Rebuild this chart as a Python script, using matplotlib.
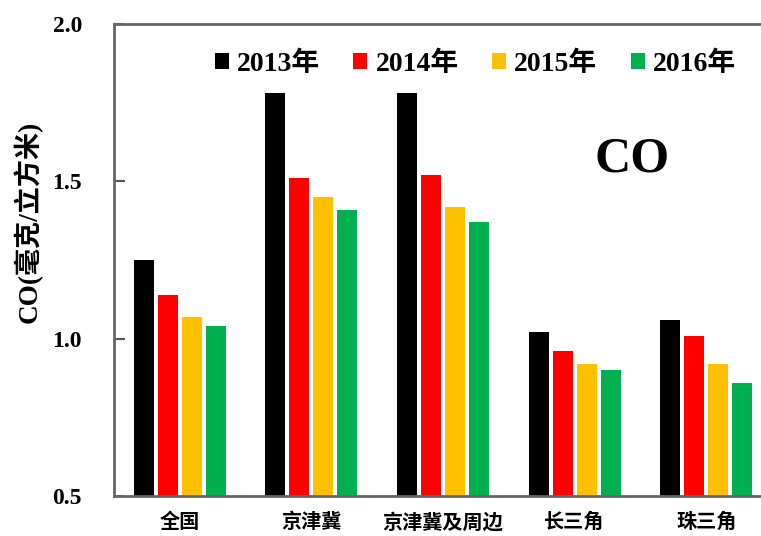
import matplotlib.pyplot as plt
import numpy as np

plt.rcParams['font.family'] = ['Liberation Serif', 'Noto Sans CJK SC']

regions = ['全国', '京津冀', '京津冀及周边', '长三角', '珠三角']
years = ['2013年', '2014年', '2015年', '2016年']
co_2013 = [1.25, 1.78, 1.78, 1.02, 1.06]
co_2014 = [1.14, 1.51, 1.52, 0.96, 1.01]
co_2015 = [1.07, 1.45, 1.42, 0.92, 0.92]
co_2016 = [1.04, 1.41, 1.37, 0.90, 0.86]
colors = ['#000000', '#ff0000', '#ffc000', '#00b050']

fig = plt.figure(figsize=(7.61, 5.36), dpi=100)
ax = fig.add_axes([114/761, 40/536, 658/761, 472/536])

x = np.arange(len(regions))
pitch = 0.182
width = 0.152
for i, vals in enumerate([co_2013, co_2014, co_2015, co_2016]):
    ax.bar(x + (i - 1.5) * pitch, vals, width, color=colors[i], label=years[i])

ax.set_xlim(-0.5, 4.5)
ax.set_ylim(0.5, 2.0)
ax.set_yticks([0.5, 1.0, 1.5, 2.0])
ax.set_yticklabels(['0.5', '1.0', '1.5', '2.0'], fontsize=17, fontweight='bold',
                   family=['Liberation Serif'])
ax.tick_params(axis='y', direction='in', length=8, width=1.5, color='#555555', pad=23)
ax.set_xticks(x)
ax.set_xticklabels(regions, fontsize=14.5, fontweight='bold', family=['Noto Sans CJK SC'])
ax.tick_params(axis='x', length=0, pad=11)
for s in ['left', 'bottom', 'top']:
    ax.spines[s].set_color('#666666')
    ax.spines[s].set_linewidth(2)
ax.spines['right'].set_visible(False)

fig.text(28/761, 1 - 222/536, 'CO(毫克/立方米)', rotation=90, ha='center', va='center',
         fontsize=19.5, fontweight='bold')
ax.text(0.787, 0.712, 'CO', transform=ax.transAxes, ha='center', va='center',
        fontsize=36, fontweight='bold', family=['Liberation Serif'])

ax.legend(loc='upper left', bbox_to_anchor=(0.115, 0.995), ncol=4, frameon=False,
          handlelength=0.5, handleheight=0.5, handletextpad=0.3, columnspacing=1.2,
          prop={'family': ['Liberation Serif', 'Noto Sans CJK SC'], 'weight': 'bold', 'size': 20})

fig.savefig('out.png', dpi=100)
